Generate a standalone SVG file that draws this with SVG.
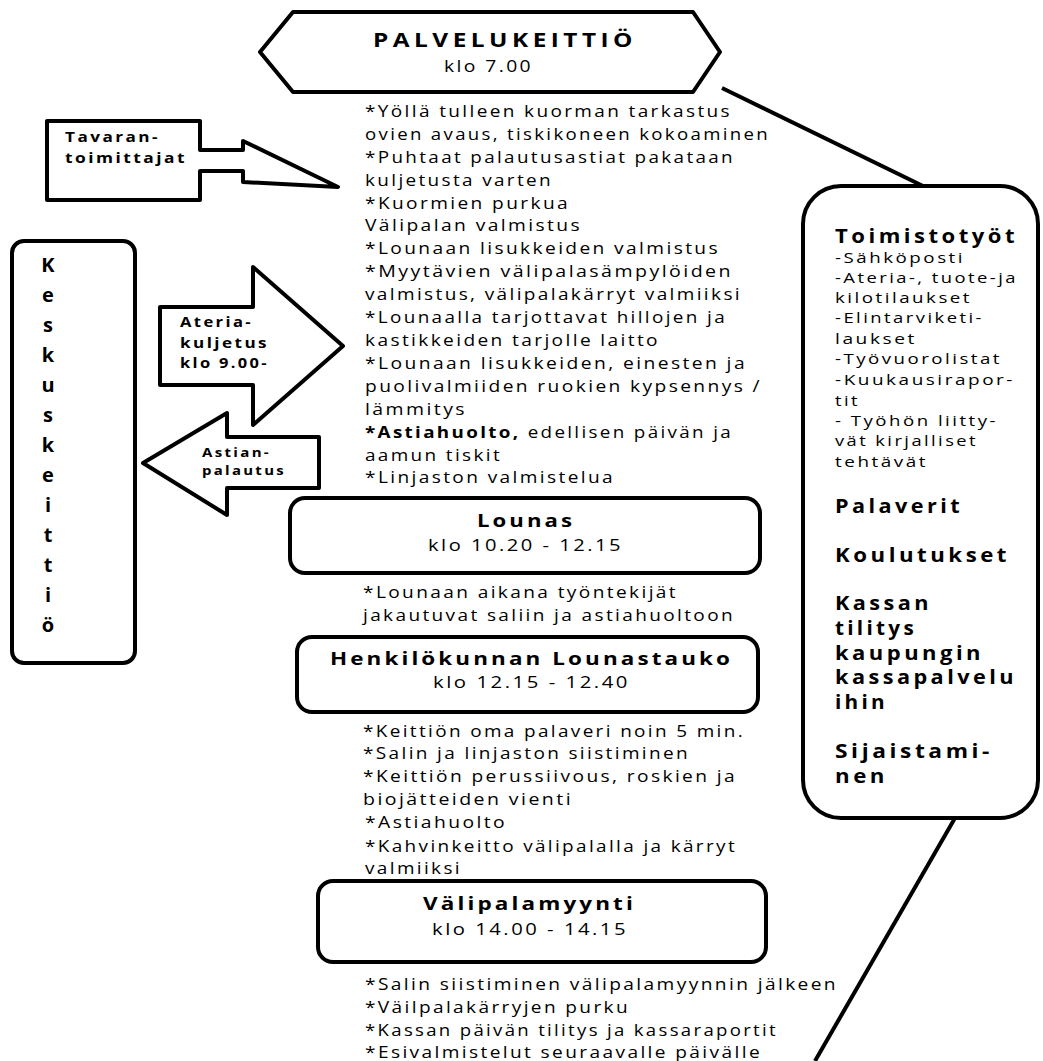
<svg xmlns="http://www.w3.org/2000/svg" width="1043" height="1061" viewBox="0 0 1043 1061">
  <style>
    .shape { fill: #fff; stroke: #000; stroke-width: 4; stroke-linejoin: round; }
    .conn { stroke: #000; stroke-width: 4; fill: none; }
    text { font-family: "Open Sans", "Liberation Sans", sans-serif; fill: #000; }
    .b { font-weight: bold; }
    .body { font-size: 16px; letter-spacing: 2px; }
    .side { font-size: 15px; letter-spacing: 2px; }
    .sideh { font-size: 19px; font-weight: bold; letter-spacing: 3px; }
    .head { font-size: 19px; font-weight: bold; letter-spacing: 3.5px; }
    .hb { font-size: 18px; font-weight: bold; letter-spacing: 2.5px; }
    .sub { font-size: 16px; letter-spacing: 2px; }
    .lbl { font-weight: bold; letter-spacing: 2px; }
    .vert { font-size: 20px; font-weight: bold; text-anchor: middle; }
  </style>

  <!-- connectors to the office box -->
  <g id="connectors">
    <line class="conn" x1="722" y1="88" x2="923" y2="186"/>
    <line class="conn" x1="955" y1="818" x2="815" y2="1061"/>
  </g>

  <!-- service kitchen header -->
  <g id="palvelukeittio">
    <polygon class="shape" points="260,52 293,12 693,12 720,52 693,92 293,92"/>
    <text class="head" x="373" y="47" textLength="264" lengthAdjust="spacingAndGlyphs">PALVELUKEITTIÖ</text>
    <text class="sub" x="444" y="72" textLength="89" lengthAdjust="spacingAndGlyphs">klo 7.00</text>
  </g>

  <!-- suppliers callout -->
  <g id="tavarantoimittajat">
    <polygon class="shape" points="47,121 200,121 200,150 243,150 243,141 338,187 243,182 243,171 200,171 200,200 47,200"/>
    <text class="lbl" x="65" y="142" font-size="14" textLength="95" lengthAdjust="spacingAndGlyphs">Tavaran-</text>
    <text class="lbl" x="65" y="163" font-size="14" textLength="122" lengthAdjust="spacingAndGlyphs">toimittajat</text>
  </g>

  <!-- central kitchen -->
  <g id="keskuskeittio">
    <rect class="shape" x="12" y="241" width="123" height="422" rx="12"/>
    <text class="vert" x="48" y="272">K</text>
    <text class="vert" x="48" y="302">e</text>
    <text class="vert" x="48" y="332">s</text>
    <text class="vert" x="48" y="362">k</text>
    <text class="vert" x="48" y="392">u</text>
    <text class="vert" x="48" y="422">s</text>
    <text class="vert" x="48" y="452">k</text>
    <text class="vert" x="48" y="482">e</text>
    <text class="vert" x="48" y="512">i</text>
    <text class="vert" x="48" y="542">t</text>
    <text class="vert" x="48" y="572">t</text>
    <text class="vert" x="48" y="602">i</text>
    <text class="vert" x="48" y="632">ö</text>
  </g>

  <!-- meal transport arrow -->
  <g id="ateriakuljetus">
    <polygon class="shape" points="160,307 253,307 253,267 343,346 253,425 253,385 160,385"/>
    <text class="lbl" x="180" y="327" font-size="14" textLength="73" lengthAdjust="spacingAndGlyphs">Ateria-</text>
    <text class="lbl" x="180" y="348" font-size="14" textLength="89" lengthAdjust="spacingAndGlyphs">kuljetus</text>
    <text class="lbl" x="180" y="368" font-size="14" textLength="89" lengthAdjust="spacingAndGlyphs">klo 9.00-</text>
  </g>

  <!-- dish return arrow -->
  <g id="astianpalautus">
    <polygon class="shape" points="143,463 227,413 227,437 319,437 319,488 227,488 227,515"/>
    <text class="lbl" x="202" y="457" font-size="13" textLength="69" lengthAdjust="spacingAndGlyphs">Astian-</text>
    <text class="lbl" x="202" y="475" font-size="13" textLength="84" lengthAdjust="spacingAndGlyphs">palautus</text>
  </g>

  <!-- morning tasks -->
  <g id="aamutehtavat" class="body">
    <text x="365" y="117" textLength="367" lengthAdjust="spacingAndGlyphs">*Yöllä tulleen kuorman tarkastus</text>
    <text x="365" y="140" textLength="405" lengthAdjust="spacingAndGlyphs">ovien avaus, tiskikoneen kokoaminen</text>
    <text x="365" y="163" textLength="370" lengthAdjust="spacingAndGlyphs">*Puhtaat palautusastiat pakataan</text>
    <text x="365" y="186" textLength="188" lengthAdjust="spacingAndGlyphs">kuljetusta varten</text>
    <text x="365" y="209" textLength="205" lengthAdjust="spacingAndGlyphs">*Kuormien purkua</text>
    <text x="365" y="231" textLength="217" lengthAdjust="spacingAndGlyphs">Välipalan valmistus</text>
    <text x="365" y="254" textLength="355" lengthAdjust="spacingAndGlyphs">*Lounaan lisukkeiden valmistus</text>
    <text x="365" y="277" textLength="368" lengthAdjust="spacingAndGlyphs">*Myytävien välipalasämpylöiden</text>
    <text x="365" y="300" textLength="377" lengthAdjust="spacingAndGlyphs">valmistus, välipalakärryt valmiiksi</text>
    <text x="365" y="323" textLength="362" lengthAdjust="spacingAndGlyphs">*Lounaalla tarjottavat hillojen ja</text>
    <text x="365" y="346" textLength="295" lengthAdjust="spacingAndGlyphs">kastikkeiden tarjolle laitto</text>
    <text x="365" y="369" textLength="382" lengthAdjust="spacingAndGlyphs">*Lounaan lisukkeiden, einesten ja</text>
    <text x="365" y="392" textLength="397" lengthAdjust="spacingAndGlyphs">puolivalmiiden ruokien kypsennys /</text>
    <text x="365" y="415" textLength="102" lengthAdjust="spacingAndGlyphs">lämmitys</text>
    <text x="365" y="438" textLength="368" lengthAdjust="spacingAndGlyphs"><tspan class="b">*Astiahuolto,</tspan> edellisen päivän ja</text>
    <text x="365" y="461" textLength="137" lengthAdjust="spacingAndGlyphs">aamun tiskit</text>
    <text x="365" y="483" textLength="250" lengthAdjust="spacingAndGlyphs">*Linjaston valmistelua</text>
  </g>

  <!-- lunch -->
  <g id="lounas">
    <rect class="shape" x="290" y="498" width="470" height="75" rx="15"/>
    <text class="hb" x="477" y="527" textLength="98" lengthAdjust="spacingAndGlyphs">Lounas</text>
    <text class="sub" x="428" y="551" textLength="195" lengthAdjust="spacingAndGlyphs">klo 10.20 - 12.15</text>
  </g>
  <g id="lounastehtavat" class="body">
    <text x="363" y="598" textLength="315" lengthAdjust="spacingAndGlyphs">*Lounaan aikana työntekijät</text>
    <text x="363" y="621" textLength="372" lengthAdjust="spacingAndGlyphs">jakautuvat saliin ja astiahuoltoon</text>
  </g>

  <!-- staff lunch break -->
  <g id="lounastauko">
    <rect class="shape" x="297" y="637" width="461" height="75" rx="15"/>
    <text class="hb" x="330" y="665" textLength="403" lengthAdjust="spacingAndGlyphs">Henkilökunnan Lounastauko</text>
    <text class="sub" x="433" y="688" textLength="197" lengthAdjust="spacingAndGlyphs">klo 12.15 - 12.40</text>
  </g>
  <g id="iltapaivatehtavat" class="body">
    <text x="363" y="737" textLength="382" lengthAdjust="spacingAndGlyphs">*Keittiön oma palaveri noin 5 min.</text>
    <text x="363" y="759" textLength="327" lengthAdjust="spacingAndGlyphs">*Salin ja linjaston siistiminen</text>
    <text x="363" y="782" textLength="374" lengthAdjust="spacingAndGlyphs">*Keittiön perussiivous, roskien ja</text>
    <text x="363" y="805" textLength="210" lengthAdjust="spacingAndGlyphs">biojätteiden vienti</text>
    <text x="365" y="828" textLength="142" lengthAdjust="spacingAndGlyphs">*Astiahuolto</text>
    <text x="365" y="852" textLength="372" lengthAdjust="spacingAndGlyphs">*Kahvinkeitto välipalalla ja kärryt</text>
    <text x="365" y="874" textLength="97" lengthAdjust="spacingAndGlyphs">valmiiksi</text>
  </g>

  <!-- snack sales -->
  <g id="valipalamyynti">
    <rect class="shape" x="318" y="881" width="448" height="81" rx="15"/>
    <text class="hb" x="423" y="910" textLength="213" lengthAdjust="spacingAndGlyphs">Välipalamyynti</text>
    <text class="sub" x="432" y="935" textLength="196" lengthAdjust="spacingAndGlyphs">klo 14.00 - 14.15</text>
  </g>
  <g id="lopputehtavat" class="body">
    <text x="365" y="990" textLength="473" lengthAdjust="spacingAndGlyphs">*Salin siistiminen välipalamyynnin jälkeen</text>
    <text x="365" y="1013" textLength="265" lengthAdjust="spacingAndGlyphs">*Väilpalakärryjen purku</text>
    <text x="365" y="1036" textLength="413" lengthAdjust="spacingAndGlyphs">*Kassan päivän tilitys ja kassaraportit</text>
    <text x="365" y="1058" textLength="397" lengthAdjust="spacingAndGlyphs">*Esivalmistelut seuraavalle päivälle</text>
  </g>

  <!-- office work -->
  <g id="toimistotyot">
    <rect class="shape" x="803" y="186" width="235" height="632" rx="38"/>
    <text class="sideh" x="835" y="243" textLength="183" lengthAdjust="spacingAndGlyphs">Toimistotyöt</text>
    <text class="side" x="835" y="263" textLength="130" lengthAdjust="spacingAndGlyphs">-Sähköposti</text>
    <text class="side" x="835" y="283" textLength="183" lengthAdjust="spacingAndGlyphs">-Ateria-, tuote-ja</text>
    <text class="side" x="835" y="303" textLength="137" lengthAdjust="spacingAndGlyphs">kilotilaukset</text>
    <text class="side" x="835" y="323" textLength="149" lengthAdjust="spacingAndGlyphs">-Elintarviketi-</text>
    <text class="side" x="835" y="344" textLength="82" lengthAdjust="spacingAndGlyphs">laukset</text>
    <text class="side" x="835" y="364" textLength="167" lengthAdjust="spacingAndGlyphs">-Työvuorolistat</text>
    <text class="side" x="835" y="385" textLength="180" lengthAdjust="spacingAndGlyphs">-Kuukausirapor-</text>
    <text class="side" x="835" y="406" textLength="25" lengthAdjust="spacingAndGlyphs">tit</text>
    <text class="side" x="835" y="426" textLength="163" lengthAdjust="spacingAndGlyphs">- Työhön liitty-</text>
    <text class="side" x="835" y="446" textLength="143" lengthAdjust="spacingAndGlyphs">vät kirjalliset</text>
    <text class="side" x="835" y="467" textLength="93" lengthAdjust="spacingAndGlyphs">tehtävät</text>
    <text class="sideh" x="835" y="513" textLength="128" lengthAdjust="spacingAndGlyphs">Palaverit</text>
    <text class="sideh" x="835" y="562" textLength="175" lengthAdjust="spacingAndGlyphs">Koulutukset</text>
    <text class="sideh" x="835" y="610" textLength="97" lengthAdjust="spacingAndGlyphs">Kassan</text>
    <text class="sideh" x="835" y="635" textLength="82" lengthAdjust="spacingAndGlyphs">tilitys</text>
    <text class="sideh" x="835" y="660" textLength="149" lengthAdjust="spacingAndGlyphs">kaupungin</text>
    <text class="sideh" x="835" y="684" textLength="182" lengthAdjust="spacingAndGlyphs">kassapalvelu</text>
    <text class="sideh" x="835" y="709" textLength="53" lengthAdjust="spacingAndGlyphs">ihin</text>
    <text class="sideh" x="835" y="758" textLength="158" lengthAdjust="spacingAndGlyphs">Sijaistami-</text>
    <text class="sideh" x="835" y="783" textLength="53" lengthAdjust="spacingAndGlyphs">nen</text>
  </g>
</svg>
